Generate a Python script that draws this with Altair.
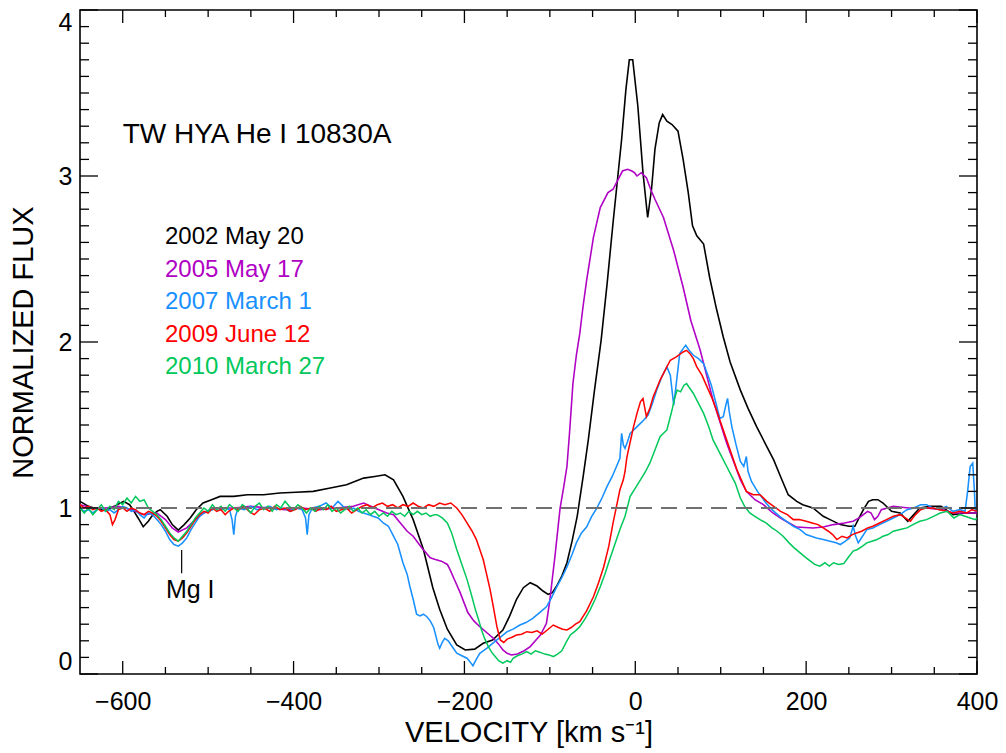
import altair as alt
import pandas as pd

# ---------------- data ----------------
NAMES = ["2002 May 20", "2005 May 17", "2007 March 1", "2009 June 12", "2010 March 27"]
COLORS = ["#000000", "#B000C4", "#1890FF", "#FF0000", "#00C85A"]
WIDTHS = [1.6, 1.5, 1.5, 1.5, 1.9]

S2002 = [(-650,1.04),(-640,1.01),(-634,1.0),(-625,0.99),(-619,0.99),(-610,1.01),(-599,1.04),(-592,1.02),
 (-588,0.99),(-582,0.94),(-576,0.887),(-570,0.92),(-566,0.95),(-560,0.98),(-556,0.99),(-548,0.95),(-542,0.90),
 (-535,0.867),(-528,0.90),(-521,0.94),(-514,0.99),(-506,1.03),(-496,1.05),(-486,1.07),(-470,1.07),(-454,1.08),
 (-435,1.08),(-416,1.09),(-397,1.095),(-377,1.10),(-357,1.12),(-338,1.14),(-318,1.18),(-305,1.19),(-293,1.20),
 (-283,1.17),(-272,1.07),(-260,0.93),(-248,0.75),(-237,0.52),(-229,0.39),(-220,0.27),(-209,0.175),(-199,0.145),
 (-188,0.15),(-178,0.185),(-167,0.205),(-155,0.265),(-147,0.35),(-139,0.45),(-131,0.52),(-123,0.55),(-115,0.53),
 (-108,0.50),(-102,0.48),(-97,0.49),(-92,0.53),(-86,0.59),(-80,0.67),(-74,0.80),(-68,0.95),(-61,1.19),(-55,1.41),
 (-48,1.70),(-40,2.01),(-33,2.35),(-26,2.72),(-21,2.97),(-16,3.22),(-11,3.52),(-7,3.70),(-3,3.70),(3,3.42),
 (9,3.02),(14.5,2.75),(19,2.92),(23,3.16),(28,3.32),(32,3.37),(37,3.33),(43,3.31),(50,3.27),(56,3.10),(62,2.90),
 (67,2.70),(72,2.64),(80,2.59),(87,2.39),(95,2.20),(103,2.03),(111,1.88),(123,1.71),(132,1.60),(142,1.49),
 (152,1.39),(162,1.29),(170,1.19),(179,1.08),(189,1.04),(196,1.02),(208,1.0),(220,0.95),(228,0.93),(240,0.90),
 (250,0.89),(257,0.89),(262,0.94),(267,0.99),(273,1.04),(278,1.05),(284,1.05),(290,1.03),(300,0.98),(310,0.97),
 (319,0.92),(326,0.96),(333,1.0),(345,1.01),(358,1.01),(372,0.96),(386,0.97),(400,0.97)]

S2005 = [(-650,1.02),(-635,1.0),(-620,1.0),(-605,1.01),(-590,0.99),(-575,0.96),(-560,0.97),(-550,0.93),
 (-542,0.88),(-535,0.855),(-525,0.88),(-515,0.93),(-505,0.97),(-494,1.0),(-470,1.0),(-450,1.01),(-430,1.0),
 (-410,0.99),(-390,1.0),(-370,0.99),(-350,1.0),(-330,1.01),(-318,1.03),(-305,1.0),(-291,0.97),(-283,0.96),
 (-275,0.91),(-267,0.86),(-260,0.83),(-250,0.76),(-240,0.70),(-234,0.69),(-227,0.68),(-220,0.66),(-217,0.63),
 (-211,0.56),(-205,0.49),(-196,0.37),(-189,0.32),(-182,0.285),(-174,0.25),(-166,0.215),(-160,0.18),(-155,0.145),
 (-150,0.125),(-145,0.115),(-138,0.12),(-130,0.14),(-123,0.165),(-117,0.2),(-111,0.235),(-104,0.305),(-100,0.445),
 (-97,0.58),(-94,0.71),(-88,1.0),(-84,1.12),(-80,1.25),(-77,1.45),(-73,1.75),(-69,1.92),(-65,2.05),(-61,2.22),
 (-57,2.37),(-49,2.63),(-41,2.81),(-32,2.90),(-26,2.92),(-20,2.98),(-15,3.03),(-9,3.04),(-4,3.03),(-1,3.02),
 (2,3.0),(7,3.02),(13,2.99),(18,2.92),(23,2.86),(33,2.75),(45,2.55),(56,2.33),(65,2.13),(76,1.95),(91,1.65),
 (107,1.39),(123,1.17),(130,1.10),(140,1.05),(150,1.02),(161,0.97),(170,0.94),(180,0.91),(189,0.885),(208,0.88),
 (220,0.885),(232,0.90),(245,0.91),(255,0.92),(262,0.94),(267,0.96),(272,0.98),(276,0.97),(280,0.93),(284,0.95),
 (288,0.99),(302,1.01),(320,1.0),(340,1.0),(360,0.99),(372,0.97),(386,0.97),(400,0.97)]

S2007 = [(-650,1.0),(-645,0.98),(-640,0.99),(-635,0.97),(-630,0.99),(-625,1.0),(-620,0.98),(-615,0.99),
 (-610,0.97),(-605,0.99),(-600,1.01),(-595,1.0),(-590,0.98),(-585,0.99),(-580,0.96),(-575,0.94),(-570,0.97),
 (-565,0.96),(-560,0.93),(-555,0.90),(-550,0.86),(-545,0.81),(-540,0.78),(-535,0.77),(-530,0.79),(-525,0.82),
 (-520,0.87),(-515,0.91),(-510,0.95),(-505,0.97),(-500,0.98),(-495,0.99),(-490,1.0),(-485,0.99),(-480,1.0),
 (-475,0.99),(-472,0.93),(-470,0.84),(-468,0.95),(-465,1.0),(-458,0.99),(-450,1.01),(-443,0.99),(-436,1.0),
 (-428,1.01),(-420,0.99),(-412,1.0),(-404,0.98),(-396,1.0),(-390,0.99),(-386,0.94),(-384,0.84),(-382,0.96),
 (-378,1.0),(-370,1.01),(-362,1.03),(-355,1.0),(-348,1.04),(-342,1.01),(-336,0.99),(-330,1.0),(-324,0.98),
 (-318,0.97),(-312,0.96),(-307,0.95),(-301,0.94),(-295,0.91),(-289,0.89),(-283,0.83),(-278,0.78),(-272,0.67),
 (-267,0.60),(-264,0.53),(-260,0.45),(-256,0.36),(-252,0.35),(-248,0.36),(-244,0.345),(-240,0.32),(-236,0.28),
 (-231,0.18),(-229,0.155),(-226,0.19),(-223,0.215),(-219,0.20),(-215,0.17),(-209,0.125),(-203,0.11),(-197,0.095),
 (-193,0.07),(-190,0.05),(-186,0.09),(-182,0.125),(-178,0.14),(-174,0.155),(-168,0.18),(-162,0.205),(-156,0.23),
 (-150,0.255),(-143,0.27),(-135,0.295),(-128,0.31),(-120,0.335),(-112,0.37),(-104,0.405),(-98,0.46),(-92,0.525),
 (-86,0.58),(-80,0.645),(-74,0.72),(-69,0.79),(-63,0.85),(-57,0.885),(-51,0.95),(-45,1.0),(-39,1.06),(-33,1.13),
 (-27,1.19),(-22,1.25),(-18,1.30),(-16,1.45),(-14,1.38),(-12,1.36),(-9,1.40),(-6,1.45),(0,1.48),(6,1.51),
 (10,1.53),(15,1.56),(20,1.63),(25,1.71),(31,1.79),(37,1.85),(41,1.80),(45,1.62),(48,1.75),(52,1.93),(56,1.96),
 (59,1.98),(63,1.95),(68,1.92),(74,1.90),(80,1.87),(85,1.80),(89,1.74),(94,1.64),(99,1.54),(103,1.55),(106,1.62),
 (108,1.66),(110,1.58),(113,1.49),(118,1.38),(123,1.28),(127,1.25),(130,1.31),(132,1.22),(136,1.16),(143,1.10),
 (153,1.03),(160,0.99),(169,0.95),(177,0.92),(185,0.89),(193,0.87),(200,0.84),(206,0.83),(212,0.82),(220,0.81),
 (228,0.80),(235,0.79),(240,0.78),(246,0.80),(251,0.82),(255,0.89),(258,0.83),(261,0.79),(266,0.83),(271,0.87),
 (278,0.88),(286,0.90),(294,0.92),(302,0.94),(310,0.96),(318,0.99),(326,1.0),(334,1.02),(341,1.02),(348,1.0),
 (356,0.99),(364,1.01),(372,0.98),(380,0.99),(386,0.98),(389,1.10),(392,1.25),(395,1.27),(397,1.10),(398,0.98),
 (400,0.98)]

S2009 = [(-650,1.02),(-645,1.0),(-640,1.01),(-635,0.99),(-630,1.0),(-625,0.98),(-620,0.99),(-615,0.96),
 (-612,0.90),(-609,0.93),(-605,0.99),(-600,1.0),(-595,0.98),(-590,1.0),(-585,0.99),(-580,0.97),(-575,0.96),
 (-570,0.98),(-565,0.97),(-560,0.95),(-555,0.92),(-550,0.88),(-545,0.84),(-540,0.81),(-535,0.80),(-530,0.82),
 (-525,0.85),(-520,0.89),(-515,0.93),(-510,0.96),(-505,0.98),(-500,0.97),(-495,1.0),(-490,0.98),(-485,0.99),
 (-480,0.96),(-476,0.98),(-470,1.0),(-464,0.99),(-458,1.01),(-452,0.98),(-446,0.96),(-440,0.99),(-434,1.0),
 (-428,0.98),(-422,1.01),(-416,0.99),(-410,1.0),(-404,0.98),(-398,0.99),(-392,1.01),(-386,0.99),(-380,1.0),
 (-374,0.98),(-368,1.0),(-362,0.99),(-356,1.01),(-350,0.98),(-344,0.99),(-338,1.0),(-332,0.97),(-326,0.99),
 (-320,1.01),(-314,1.02),(-308,1.0),(-302,1.02),(-296,1.03),(-290,1.01),(-284,1.02),(-278,1.0),(-272,1.02),
 (-266,1.01),(-260,1.03),(-254,1.01),(-248,1.0),(-242,1.02),(-236,1.01),(-229,1.03),(-223,1.02),(-216,1.03),
 (-209,1.0),(-203,0.96),(-197,0.91),(-191,0.86),(-186,0.81),(-182,0.75),(-178,0.69),(-174,0.60),(-170,0.51),
 (-166,0.40),(-162,0.285),(-158,0.205),(-154,0.19),(-150,0.21),(-145,0.22),(-139,0.235),(-133,0.24),(-127,0.255),
 (-121,0.25),(-115,0.26),(-109,0.24),(-103,0.265),(-96,0.295),(-90,0.28),(-85,0.27),(-80,0.265),(-75,0.28),
 (-70,0.30),(-65,0.315),(-57,0.38),(-49,0.465),(-43,0.55),(-37,0.645),(-31,0.77),(-26,0.91),(-22,1.01),(-18,1.11),
 (-14,1.17),(-12,1.22),(-10,1.30),(-8,1.35),(-5,1.42),(-2,1.49),(2,1.57),(6,1.64),(9,1.66),(13,1.55),(17,1.60),
 (21,1.67),(25,1.72),(29,1.77),(35,1.83),(41,1.89),(48,1.91),(56,1.94),(60,1.95),(64,1.93),(68,1.90),(72,1.85),
 (78,1.80),(84,1.73),(90,1.66),(95,1.59),(101,1.50),(107,1.41),(113,1.32),(119,1.23),(125,1.16),(130,1.10),
 (138,1.08),(146,1.08),(154,1.04),(162,1.01),(170,0.98),(178,0.96),(185,0.93),(192,0.93),(200,0.92),(207,0.91),
 (214,0.90),(220,0.88),(226,0.86),(231,0.84),(236,0.81),(242,0.83),(248,0.82),(254,0.84),(259,0.85),(265,0.86),
 (272,0.88),(278,0.89),(286,0.91),(294,0.93),(302,0.95),(310,0.96),(316,0.94),(322,0.92),(328,0.96),(334,0.99),
 (340,1.0),(348,1.0),(356,0.99),(364,0.98),(372,0.97),(380,0.98),(388,0.97),(394,0.99),(400,0.98)]

S2010 = [(-650,1.0),(-645,0.97),(-640,1.0),(-635,0.96),(-630,0.99),(-625,1.02),(-620,0.98),(-615,1.01),
 (-610,0.99),(-605,1.04),(-600,1.02),(-595,1.06),(-590,1.03),(-585,1.07),(-580,1.04),(-575,1.05),(-570,1.0),
 (-565,0.98),(-560,0.96),(-555,0.93),(-550,0.89),(-545,0.85),(-540,0.82),(-535,0.80),(-530,0.83),(-525,0.86),
 (-520,0.90),(-515,0.94),(-510,0.97),(-505,1.0),(-500,0.98),(-495,1.02),(-490,0.99),(-485,1.01),(-480,0.98),
 (-475,1.02),(-470,1.0),(-465,0.98),(-460,1.02),(-455,1.0),(-450,0.97),(-445,1.01),(-440,1.03),(-435,0.99),
 (-430,1.01),(-425,0.98),(-420,1.02),(-415,1.0),(-410,1.04),(-405,1.01),(-400,0.99),(-395,1.02),(-390,1.0),
 (-385,0.97),(-380,1.0),(-375,0.98),(-370,1.01),(-365,0.99),(-360,1.02),(-355,0.98),(-350,1.0),(-345,0.97),
 (-340,0.99),(-335,1.01),(-330,0.98),(-325,1.0),(-320,0.97),(-315,0.99),(-310,0.96),(-305,0.98),(-300,0.95),
 (-295,0.97),(-290,0.95),(-285,0.98),(-280,0.96),(-275,0.97),(-270,0.95),(-265,0.98),(-260,0.96),(-255,0.98),
 (-250,0.96),(-245,0.97),(-240,0.95),(-235,0.96),(-232,0.96),(-226,0.94),(-220,0.91),(-215,0.85),(-209,0.75),
 (-203,0.66),(-197,0.57),(-192,0.48),(-187,0.385),(-183,0.32),(-180,0.265),(-176,0.21),(-172,0.165),(-168,0.13),
 (-164,0.105),(-160,0.08),(-155,0.065),(-150,0.08),(-146,0.07),(-143,0.095),(-138,0.11),(-133,0.12),(-127,0.135),
 (-122,0.12),(-117,0.14),(-111,0.13),(-106,0.12),(-101,0.115),(-96,0.105),(-91,0.12),(-86,0.14),(-81,0.19),
 (-76,0.235),(-70,0.26),(-65,0.285),(-59,0.33),(-53,0.385),(-47,0.45),(-41,0.525),(-35,0.61),(-30,0.69),
 (-24,0.78),(-18,0.87),(-12,0.95),(-6,1.07),(0,1.12),(6,1.17),(12,1.22),(17,1.27),(23,1.35),(29,1.43),(33,1.45),
 (37,1.47),(40,1.53),(43,1.59),(46,1.66),(49,1.71),(53,1.70),(57,1.74),(60,1.75),(64,1.72),(68,1.69),(74,1.63),
 (80,1.57),(86,1.49),(91,1.41),(97,1.35),(102,1.30),(107,1.25),(112,1.20),(117,1.15),(123,1.06),(128,1.01),
 (134,0.97),(140,0.95),(146,0.93),(153,0.91),(160,0.88),(166,0.86),(173,0.83),(180,0.79),(186,0.76),(193,0.73),
 (200,0.70),(205,0.68),(210,0.66),(216,0.65),(222,0.67),(227,0.65),(232,0.67),(238,0.66),(244,0.665),(249,0.70),
 (255,0.74),(260,0.75),(266,0.77),(271,0.79),(277,0.80),(283,0.81),(290,0.83),(296,0.84),(302,0.86),(310,0.87),
 (318,0.88),(325,0.90),(333,0.92),(341,0.93),(349,0.95),(357,0.97),(365,0.98),(369,0.96),(373,0.94),(380,0.96),
 (386,0.95),(392,0.94),(398,0.93),(400,0.94)]

SERIES = [S2002, S2005, S2007, S2009, S2010]

X_MAJOR = [-600, -400, -200, 0, 200, 400]
X_MINOR = [-550, -500, -450, -350, -300, -250, -150, -100, -50, 50, 100, 150, 250, 300, 350]
Y_MAJOR = [0, 1, 2, 3, 4]
Y_MINOR = [round(i / 10, 1) for i in range(1, 40) if i % 10 != 0]

TITLE_TEXT = "TW HYA He I 10830A"
TITLE_POS = (-600, 3.2)
LEGEND_POS = (-550.5, 2.59, 0.196)   # left velocity, first baseline flux, line step
MG_TEXT = "Mg I"
MG_V = -531
MG_LINE = (0.607, 0.747)
MG_TEXT_POS = (-521, 0.458)

# ---------------- chart ----------------
FONT = "Liberation Sans"
W, H = 897, 664
XS = alt.Scale(domain=[-650, 400], nice=False, zero=False)
YS = alt.Scale(domain=[0, 4], nice=False, zero=False)

X_AXIS = alt.Axis(values=X_MAJOR, title="VELOCITY [km s⁻¹]", labelPadding=15, labelFlush=False,
                  titleY=67, titleBaseline="alphabetic")
Y_AXIS = alt.Axis(values=Y_MAJOR, title="NORMALIZED FLUX", labelFlush=True, labelPadding=8,
                  titleX=-48, titleBaseline="alphabetic")

def X(field="v"):
    return alt.X(f"{field}:Q", scale=XS, axis=X_AXIS)

def Y(field="f"):
    return alt.Y(f"{field}:Q", scale=YS, axis=Y_AXIS)

rows = []
for name, s in zip(NAMES, SERIES):
    for v, f in s:
        rows.append({"series": name, "v": v, "f": f})
df = pd.DataFrame(rows)

lines = alt.Chart(df).mark_line(clip=True).encode(
    x=X(), y=Y(),
    color=alt.Color("series:N", scale=alt.Scale(domain=NAMES, range=COLORS), legend=None),
    strokeWidth=alt.StrokeWidth("series:N", scale=alt.Scale(domain=NAMES, range=WIDTHS), legend=None),
)

dash = alt.Chart(pd.DataFrame({"f": [1.0]})).mark_rule(
    color="#707070", strokeWidth=2, strokeDash=[16, 9]).encode(y=Y())

def xticks(vals, length):
    d = pd.DataFrame({"v": vals})
    b = alt.Chart(d).mark_rule(color="black", strokeWidth=1.3).encode(
        x=X(), y=alt.value(H), y2=alt.value(H - length))
    t = alt.Chart(d).mark_rule(color="black", strokeWidth=1.3).encode(
        x=X(), y=alt.value(0), y2=alt.value(length))
    return [b, t]

def yticks(vals, length):
    d = pd.DataFrame({"f": vals})
    l = alt.Chart(d).mark_rule(color="black", strokeWidth=1.3).encode(
        y=Y(), x=alt.value(0), x2=alt.value(length))
    r = alt.Chart(d).mark_rule(color="black", strokeWidth=1.3).encode(
        y=Y(), x=alt.value(W), x2=alt.value(W - length))
    return [l, r]

ticks = xticks(X_MAJOR, 13) + xticks(X_MINOR, 7) + yticks(Y_MAJOR, 18) + yticks(Y_MINOR, 9)

title_df = pd.DataFrame({"v": [TITLE_POS[0]], "f": [TITLE_POS[1]], "t": [TITLE_TEXT]})
title = alt.Chart(title_df).mark_text(
    align="left", baseline="alphabetic", font=FONT, fontSize=28, color="black").encode(
    x=X(), y=Y(), text="t:N")

leg_df = pd.DataFrame({
    "v": [LEGEND_POS[0]] * len(NAMES),
    "f": [LEGEND_POS[1] - i * LEGEND_POS[2] for i in range(len(NAMES))],
    "t": NAMES, "c": COLORS})
legend = alt.Chart(leg_df).mark_text(
    align="left", baseline="alphabetic", font=FONT, fontSize=24).encode(
    x=X(), y=Y(), text="t:N", color=alt.Color("c:N", scale=None))

mg_line = alt.Chart(pd.DataFrame({"v": [MG_V], "f": [MG_LINE[0]], "f2": [MG_LINE[1]]})).mark_rule(
    color="black", strokeWidth=1.2).encode(x=X(), y=Y(), y2="f2:Q")
mg_text = alt.Chart(pd.DataFrame({"v": [MG_TEXT_POS[0]], "f": [MG_TEXT_POS[1]], "t": [MG_TEXT]})).mark_text(
    align="center", baseline="alphabetic", font=FONT, fontSize=25, color="black").encode(
    x=X(), y=Y(), text="t:N")

chart = alt.layer(lines, dash, *ticks, title, legend, mg_line, mg_text).properties(
    width=W, height=H,
    autosize=alt.AutoSizeParams(type="none"),
    padding={"left": 80, "top": 10, "right": 29, "bottom": 79},
    background="white",
).configure_view(stroke="black", strokeWidth=1.6
).configure_axis(
    grid=False, ticks=False, tickSize=0, domain=False,
    labelFont=FONT, labelFontSize=25, labelColor="black",
    titleFont=FONT, titleFontSize=29, titleFontWeight="normal", titleColor="black",
)

chart.save("out.html", embed_options={"renderer": "svg", "actions": False})
